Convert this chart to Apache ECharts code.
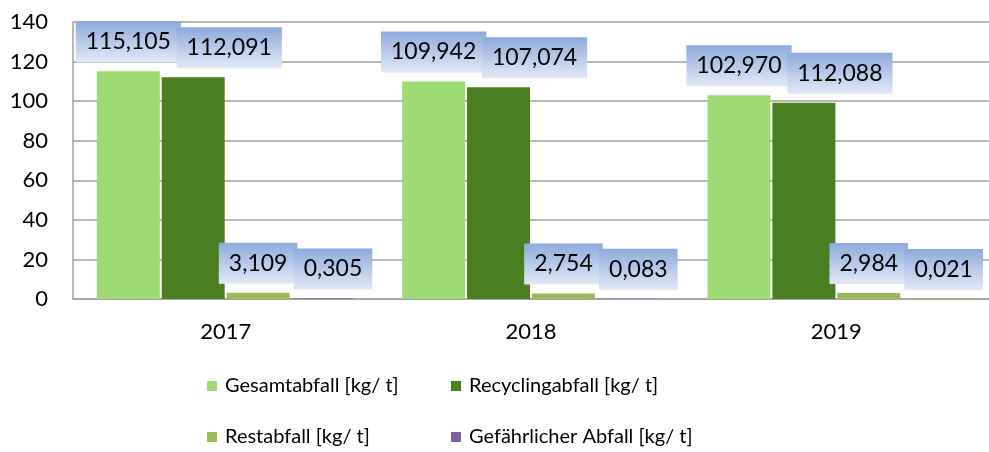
<!DOCTYPE html>
<html>
<head>
<meta charset="utf-8">
<script src="https://cdn.jsdelivr.net/npm/echarts@6/dist/echarts.min.js"></script>
<style>
  html, body { margin: 0; padding: 0; background: #fff; }
  #chart { width: 989px; height: 452px; }
</style>
</head>
<body>
<div id="chart"></div>
<script>
// Daten
const years = ['2017', '2018', '2019'];
const seriesNames = ['Gesamtabfall [kg/ t]', 'Recyclingabfall [kg/ t]', 'Restabfall [kg/ t]', 'Gefährlicher Abfall [kg/ t]'];
const gesamt = [115.105, 109.942, 102.970];
const recycling = [112.091, 107.074, 99.2];
const rest = [3.109, 2.754, 2.984];
const gefaehrlich = [0.305, 0.083, 0.021];
// Beschriftungen wie im Original
const gesamtLabels = ['115,105', '109,942', '102,970'];
const recyclingLabels = ['112,091', '107,074', '112,088'];
const restLabels = ['3,109', '2,754', '2,984'];
const gefaehrlichLabels = ['0,305', '0,083', '0,021'];
const yTicks = [0, 20, 40, 60, 80, 100, 120, 140];

const colors = ['#9fdb73', '#4a7f21', '#9bbb59', '#8064a2'];
const font = 'Lato, "Open Sans", sans-serif';

const chart = echarts.init(document.getElementById('chart'));

function makeSeries(name, data, labels, color, offsetX) {
    return {
        name: name,
        type: 'bar',
        data: data,
        barWidth: 63,
        barGap: '3%',
        itemStyle: { color: color },
        label: {
            show: true,
            position: 'top',
            distance: 9,
            offset: [offsetX, 0],
            formatter: p => labels[p.dataIndex],
            fontFamily: font,
            fontSize: 23,
            color: '#000',
            lineHeight: 25,
            padding: [8, 10, 8, 10],
            backgroundColor: new echarts.graphic.LinearGradient(0, 0, 0, 1, [
                { offset: 0, color: '#8eaadc' },
                { offset: 1, color: '#e2e9f6' }
            ])
        }
    };
}

function legendItem(name, left, top) {
    return {
        data: [name],
        left: left,
        top: top,
        icon: 'rect',
        itemWidth: 10,
        itemHeight: 10,
        padding: 0,
        textStyle: { fontFamily: font, fontSize: 20, color: '#000', padding: [0, 0, 0, 3] }
    };
}

chart.setOption({
    animation: false,
    color: colors,
    grid: { left: 73, right: 0, top: 22, bottom: 153 },
    legend: [
        legendItem(seriesNames[0], 207, 376),
        legendItem(seriesNames[1], 451, 376),
        legendItem(seriesNames[2], 207, 427),
        legendItem(seriesNames[3], 451, 427)
    ],
    xAxis: {
        type: 'category',
        data: years,
        axisLine: { lineStyle: { color: '#a0a0a0', width: 1.5 } },
        axisTick: { show: false },
        axisLabel: { fontFamily: font, fontSize: 22, color: '#000', margin: 22 }
    },
    yAxis: {
        type: 'value',
        min: yTicks[0],
        max: yTicks[yTicks.length - 1],
        interval: 20,
        axisLine: { show: true, lineStyle: { color: '#a0a0a0', width: 1.5 } },
        axisTick: { show: false },
        axisLabel: { fontFamily: font, fontSize: 22, color: '#000', margin: 25 },
        splitLine: { lineStyle: { color: '#a0a0a0', width: 1.5 } }
    },
    series: [
        makeSeries(seriesNames[0], gesamt, gesamtLabels, colors[0], 0),
        makeSeries(seriesNames[1], recycling, recyclingLabels, colors[1], 36),
        makeSeries(seriesNames[2], rest, restLabels, colors[2], 0),
        makeSeries(seriesNames[3], gefaehrlich, gefaehrlichLabels, colors[3], 10)
    ]
});
</script>
</body>
</html>
